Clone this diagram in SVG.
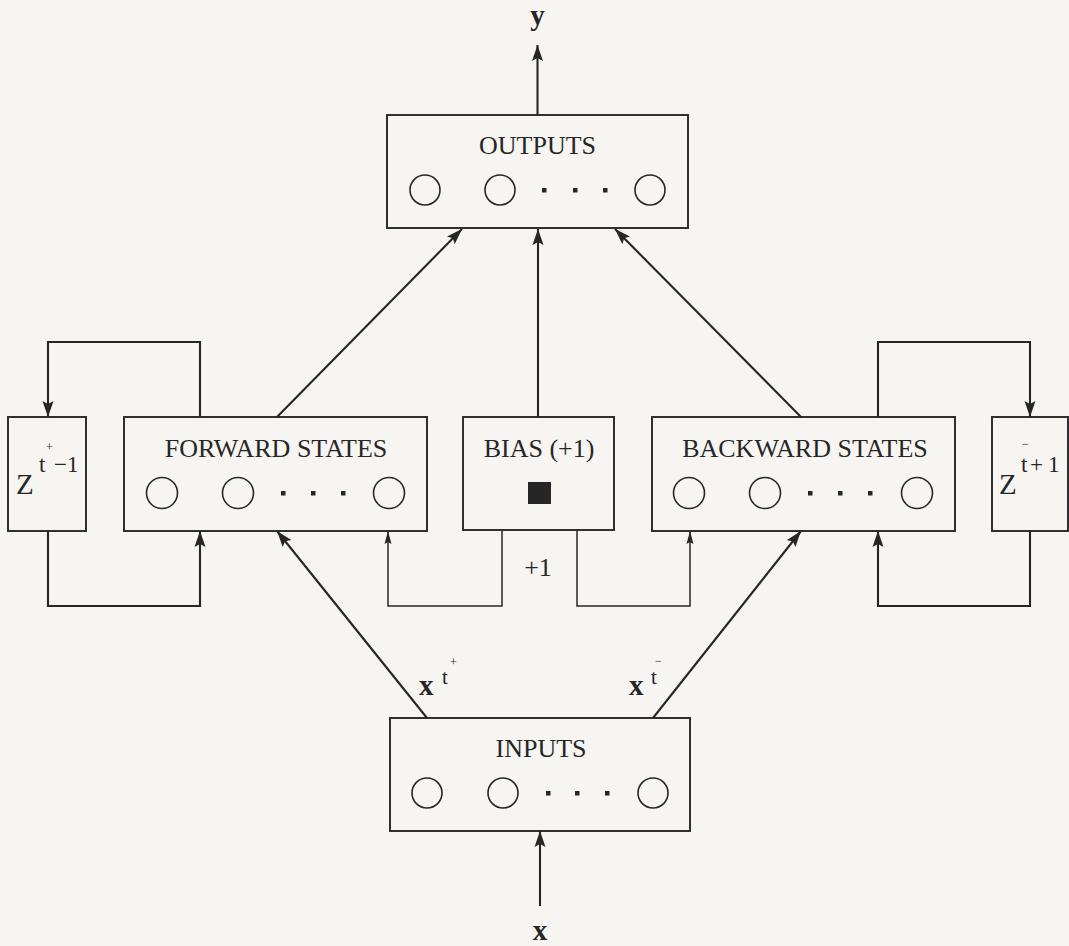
<svg xmlns="http://www.w3.org/2000/svg" width="1069" height="946" viewBox="0 0 1069 946">
  <style>
    .box { fill: none; stroke: #262626; stroke-width: 1.9; }
    .node { fill: none; stroke: #262626; stroke-width: 1.6; }
    .dot { fill: #262626; }
    .title { font-family: "Liberation Serif", "Times New Roman", serif; font-size: 26px; fill: #262626; text-anchor: middle; }
    .conn { fill: none; stroke: #262626; stroke-width: 2.1; }
    .thin { fill: none; stroke: #262626; stroke-width: 1.5; }
    .z { font-family: "Liberation Serif", "Times New Roman", serif; font-size: 29px; fill: #262626; }
    .sup { font-family: "Liberation Serif", "Times New Roman", serif; font-size: 23px; fill: #262626; }
    .tiny { font-family: "Liberation Serif", "Times New Roman", serif; font-size: 12px; fill: #262626; }
    .vec { font-family: "Liberation Serif", "Times New Roman", serif; font-size: 29px; font-weight: bold; fill: #262626; }
    .supx { font-family: "Liberation Serif", "Times New Roman", serif; font-size: 21px; fill: #262626; }
  </style>
  <defs>
    <marker id="ah" markerUnits="userSpaceOnUse" markerWidth="17" markerHeight="12" refX="16" refY="6" orient="auto">
      <path d="M0,0.5 L16,6 L0,11.5 L3,6 z" fill="#262626"/>
    </marker>
    <marker id="ahs" markerUnits="userSpaceOnUse" markerWidth="14" markerHeight="8" refX="13" refY="4" orient="auto">
      <path d="M0,0.5 L13,4 L0,7.5 L2,4 z" fill="#262626"/>
    </marker>
  </defs>
  <rect x="0" y="0" width="1069" height="946" fill="#f6f5f1"/>

  <g id="connectors">
    <path class="conn" d="M537.5,115 L537.5,45" marker-end="url(#ah)"/>
    <path class="conn" d="M540,906 L540,831" marker-end="url(#ah)"/>
    <path class="conn" d="M277,417 L462,229" marker-end="url(#ah)"/>
    <path class="conn" d="M538,417 L538,229" marker-end="url(#ah)"/>
    <path class="conn" d="M801,417 L615,229" marker-end="url(#ah)"/>
    <path class="conn" d="M427,718 L277,531" marker-end="url(#ah)"/>
    <path class="conn" d="M653,718 L801,531" marker-end="url(#ah)"/>
    <path class="conn" d="M200,417 L200,342 L48,342 L48,417" marker-end="url(#ah)"/>
    <path class="conn" d="M48,531 L48,606 L200,606 L200,531" marker-end="url(#ah)"/>
    <path class="conn" d="M878,417 L878,342 L1030,342 L1030,417" marker-end="url(#ah)"/>
    <path class="conn" d="M1030,531 L1030,606 L878,606 L878,531" marker-end="url(#ah)"/>
    <path class="thin" d="M502,530 L502,606 L388,606 L388,531" marker-end="url(#ahs)"/>
    <path class="thin" d="M577,530 L577,606 L690,606 L690,531" marker-end="url(#ahs)"/>
  </g>

  <g id="labels">
    <text class="vec" x="537.5" y="25" text-anchor="middle">y</text>
    <text class="vec" x="540" y="940" text-anchor="middle">x</text>
    <text class="vec" x="419" y="695">x</text>
    <text class="supx" x="442" y="684">t</text>
    <text class="tiny" x="450" y="666">+</text>
    <text class="vec" x="629" y="695">x</text>
    <text class="supx" x="651" y="684">t</text>
    <text class="tiny" x="655" y="665">−</text>
    <text class="title" x="538" y="576">+1</text>
  </g>

  <g id="outputs">
    <rect class="box" x="387" y="115" width="301" height="113"/>
    <text class="title" x="537.5" y="154">OUTPUTS</text>
    <circle class="node" cx="425" cy="190" r="15"/>
    <circle class="node" cx="500" cy="190" r="15"/>
    <rect class="dot" x="542" y="188" width="4.5" height="4.5"/>
    <rect class="dot" x="573" y="188" width="4.5" height="4.5"/>
    <rect class="dot" x="603" y="188" width="4.5" height="4.5"/>
    <circle class="node" cx="650" cy="190" r="15"/>
  </g>

  <g id="z-minus">
    <rect class="box" x="8" y="417" width="78" height="114"/>
    <text class="z" x="16" y="494">Z</text>
    <text class="sup" x="39" y="472">t</text>
    <text class="tiny" x="46" y="451">+</text>
    <text class="sup" x="54" y="472">−1</text>
  </g>

  <g id="forward-states">
    <rect class="box" x="124" y="417" width="303" height="114"/>
    <text class="title" x="276" y="457">FORWARD STATES</text>
    <circle class="node" cx="162" cy="493" r="15.5"/>
    <circle class="node" cx="238" cy="493" r="15.5"/>
    <rect class="dot" x="281" y="491" width="4.5" height="4.5"/>
    <rect class="dot" x="311" y="491" width="4.5" height="4.5"/>
    <rect class="dot" x="341" y="491" width="4.5" height="4.5"/>
    <circle class="node" cx="389" cy="493" r="15.5"/>
  </g>

  <g id="bias">
    <rect class="box" x="463" y="417" width="151" height="113"/>
    <text class="title" x="539" y="457">BIAS (+1)</text>
    <rect class="dot" x="528" y="482" width="23" height="22"/>
  </g>

  <g id="backward-states">
    <rect class="box" x="652" y="417" width="303" height="114"/>
    <text class="title" x="805" y="457">BACKWARD STATES</text>
    <circle class="node" cx="689" cy="493" r="15.5"/>
    <circle class="node" cx="765" cy="493" r="15.5"/>
    <rect class="dot" x="808" y="491" width="4.5" height="4.5"/>
    <rect class="dot" x="838" y="491" width="4.5" height="4.5"/>
    <rect class="dot" x="868" y="491" width="4.5" height="4.5"/>
    <circle class="node" cx="917" cy="493" r="15.5"/>
  </g>

  <g id="z-plus">
    <rect class="box" x="992" y="417" width="76" height="114"/>
    <text class="z" x="999" y="494">Z</text>
    <text class="sup" x="1021" y="472">t</text>
    <text class="tiny" x="1022" y="448">−</text>
    <text class="sup" x="1030" y="472">+</text>
    <text class="sup" x="1048" y="472">1</text>
  </g>

  <g id="inputs">
    <rect class="box" x="390" y="718" width="300" height="113"/>
    <text class="title" x="541" y="757">INPUTS</text>
    <circle class="node" cx="427" cy="793" r="15"/>
    <circle class="node" cx="503" cy="793" r="15"/>
    <rect class="dot" x="546" y="791" width="4.5" height="4.5"/>
    <rect class="dot" x="575" y="791" width="4.5" height="4.5"/>
    <rect class="dot" x="605" y="791" width="4.5" height="4.5"/>
    <circle class="node" cx="653" cy="793" r="15"/>
  </g>
</svg>
